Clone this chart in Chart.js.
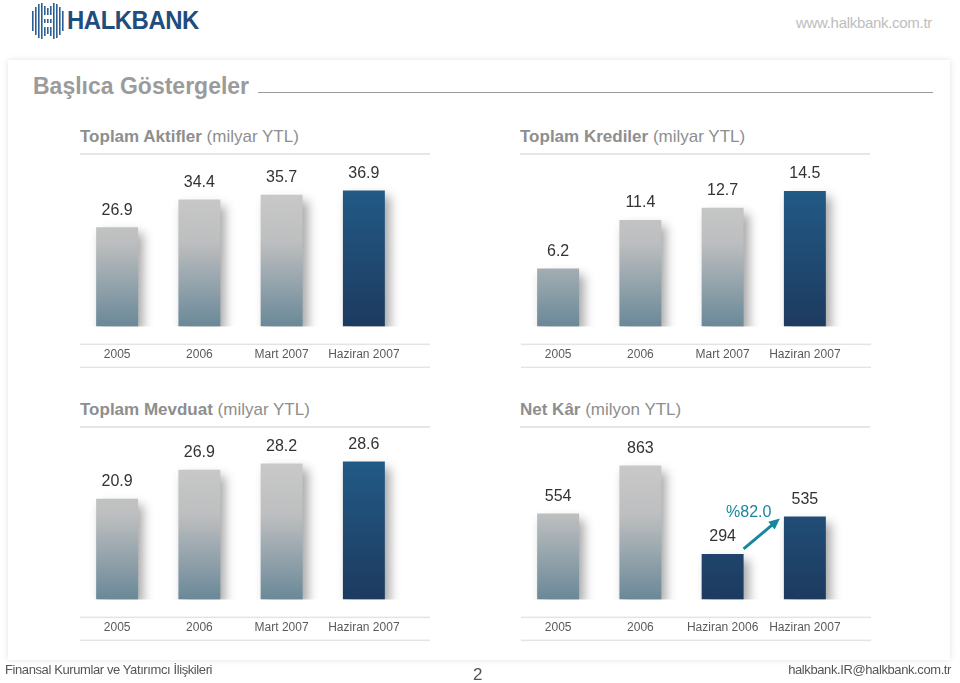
<!DOCTYPE html>
<html>
<head>
<meta charset="utf-8">
<script src="https://cdn.jsdelivr.net/npm/chart.js@4"></script>
<style>
body { margin: 0; width: 960px; height: 683px; background: #fff; position: relative; overflow: hidden;
       font-family: "Liberation Sans", Arial, sans-serif; }
.abs { position: absolute; }
.panel { left: 8px; top: 60px; width: 942px; height: 600px; background: #fff;
         box-shadow: 0 0 6px rgba(0,0,0,0.12); }
.site { right: 28px; top: 14px; font-size: 15px; color: #bdbdbd; letter-spacing: -0.3px; }
.brand { left: 67px; top: 5px; font-size: 26px; font-weight: bold; color: #1e4d7e; letter-spacing: -0.5px;
         transform: scaleX(0.92); transform-origin: left; }
.heading { left: 33px; top: 73px; font-size: 23px; font-weight: bold; color: #9b9b9b; }
.hline { left: 258px; top: 92px; width: 675px; height: 1px; background: #9a9a9a; }
.ctitle { font-size: 17px; color: #8e8e8e; }
.ctitle b { font-weight: bold; }
.tline { width: 350px; height: 2px; background: #e6e6e6; }
.foot { font-size: 13px; color: #555; top: 662px; letter-spacing: -0.4px; }
canvas { position: absolute; }
</style>
</head>
<body>
<svg class="abs" style="left:31px;top:3px" width="34" height="36" viewBox="0 0 34 36">
  <g fill="#2d5f92">
    <rect x="1" y="8" width="1.6" height="20"/>
    <rect x="4" y="4" width="1.6" height="28"/>
    <rect x="7" y="1" width="1.6" height="34"/>
    <rect x="10" y="0" width="1.6" height="36"/>
    <rect x="13" y="3" width="1.6" height="9"/>
    <rect x="13" y="16" width="1.6" height="4"/>
    <rect x="13" y="24" width="1.6" height="9"/>
    <rect x="16" y="5" width="1.6" height="7"/>
    <rect x="16" y="16" width="1.6" height="4"/>
    <rect x="16" y="24" width="1.6" height="7"/>
    <rect x="19" y="3" width="1.6" height="9"/>
    <rect x="19" y="16" width="1.6" height="4"/>
    <rect x="19" y="24" width="1.6" height="9"/>
    <rect x="22" y="0" width="1.6" height="36"/>
    <rect x="25" y="1" width="1.6" height="34"/>
    <rect x="28" y="4" width="1.6" height="28"/>
    <rect x="31" y="8" width="1.6" height="20"/>
  </g>
</svg>
<div class="abs brand">HALKBANK</div>
<div class="abs site">www.halkbank.com.tr</div>
<div class="abs panel"></div>
<div class="abs heading">Başlıca Göstergeler</div>
<div class="abs hline"></div>

<div class="abs ctitle" style="left:80px;top:127px"><b>Toplam Aktifler</b> (milyar YTL)</div>
<div class="abs tline" style="left:80px;top:153px"></div>
<div class="abs ctitle" style="left:520px;top:127px"><b>Toplam Krediler</b> (milyar YTL)</div>
<div class="abs tline" style="left:520px;top:153px"></div>
<div class="abs ctitle" style="left:80px;top:400px"><b>Toplam Mevduat</b> (milyar YTL)</div>
<div class="abs tline" style="left:80px;top:426px"></div>
<div class="abs ctitle" style="left:520px;top:400px"><b>Net Kâr</b> (milyon YTL)</div>
<div class="abs tline" style="left:520px;top:426px"></div>

<canvas id="aktifChart" width="370" height="232" style="left:70px;top:160px"></canvas>
<canvas id="krediChart" width="370" height="232" style="left:511px;top:160px"></canvas>
<canvas id="mevduatChart" width="370" height="232" style="left:70px;top:433px"></canvas>
<canvas id="karChart" width="370" height="232" style="left:511px;top:433px"></canvas>

<div class="abs foot" style="left:5px">Finansal Kurumlar ve Yatırımcı İlişkileri</div>
<div class="abs foot" style="left:473px;top:665px;font-size:17px">2</div>
<div class="abs foot" style="right:9px">halkbank.IR@halkbank.com.tr</div>

<script>
// veriler
const donemler = ["2005", "2006", "Mart 2007", "Haziran 2007"];
const karDonemleri = ["2005", "2006", "Haziran 2006", "Haziran 2007"];
const aktifler = [26.9, 34.4, 35.7, 36.9];
const krediler = [6.2, 11.4, 12.7, 14.5];
const mevduat = [20.9, 26.9, 28.2, 28.6];
const netKar = [554, 863, 294, 535];
const karArtisi = "%82.0";

Chart.defaults.font.family = '"Liberation Sans", Arial, sans-serif';

function barFill(c, darkBars) {
    const chart = c.chart;
    const area = chart.chartArea;
    if (!area) return "#bbb";
    const g = chart.ctx.createLinearGradient(0, area.bottom - 140, 0, area.bottom);
    if (darkBars.includes(c.dataIndex)) {
        g.addColorStop(0, "#225b87");
        g.addColorStop(1, "#1d3a5f");
    } else {
        g.addColorStop(0, "#cacaca");
        g.addColorStop(0.4, "#bdbebf");
        g.addColorStop(1, "#6a8898");
    }
    return g;
}

// cizgiler, golge ve deger etiketleri
const decor = {
    id: "decor",
    beforeDraw(chart) {
        const { ctx, chartArea } = chart;
        ctx.save();
        ctx.fillStyle = "#e4e4e4";
        ctx.fillRect(10, chartArea.bottom + 17, 350, 1.5);
        ctx.fillRect(10, chartArea.bottom + 40, 350, 1.5);
        ctx.restore();
    },
    beforeDatasetsDraw(chart) {
        const ctx = chart.ctx;
        ctx.save();
        ctx.shadowColor = "rgba(0,0,0,0.35)";
        ctx.shadowBlur = 10;
        ctx.shadowOffsetX = 5;
        ctx.shadowOffsetY = 6;
    },
    afterDatasetsDraw(chart) {
        const ctx = chart.ctx;
        ctx.restore();
        const ds = chart.data.datasets[0];
        const meta = chart.getDatasetMeta(0);
        ctx.save();
        ctx.font = "16px " + Chart.defaults.font.family;
        ctx.fillStyle = "#333";
        ctx.textAlign = "center";
        ctx.textBaseline = "middle";
        meta.data.forEach((bar, i) => {
            const v = ds.data[i];
            const txt = ds.decimals ? v.toFixed(ds.decimals) : String(v);
            ctx.fillText(txt, bar.x, bar.y - 17);
        });
        ctx.restore();
    }
};

// net kar icin artis oku
const growthArrow = {
    id: "growthArrow",
    afterDatasetsDraw(chart, args, opts) {
        if (!opts.text) return;
        const meta = chart.getDatasetMeta(0);
        const a = meta.data[2], b = meta.data[3];
        const x1 = a.x + a.width / 2, y1 = a.y - 5;
        const x2 = b.x - b.width / 2 - 4, y2 = b.y + 2;
        const ctx = chart.ctx;
        const ang = Math.atan2(y2 - y1, x2 - x1);
        ctx.save();
        ctx.strokeStyle = "#17879f";
        ctx.fillStyle = "#17879f";
        ctx.lineWidth = 3;
        ctx.beginPath();
        ctx.moveTo(x1, y1);
        ctx.lineTo(x2 - 8 * Math.cos(ang), y2 - 8 * Math.sin(ang));
        ctx.stroke();
        ctx.beginPath();
        ctx.moveTo(x2, y2);
        ctx.lineTo(x2 - 11 * Math.cos(ang) + 5 * Math.sin(ang), y2 - 11 * Math.sin(ang) - 5 * Math.cos(ang));
        ctx.lineTo(x2 - 11 * Math.cos(ang) - 5 * Math.sin(ang), y2 - 11 * Math.sin(ang) + 5 * Math.cos(ang));
        ctx.closePath();
        ctx.fill();
        ctx.font = "16px " + Chart.defaults.font.family;
        ctx.textAlign = "center";
        ctx.textBaseline = "middle";
        ctx.fillText(opts.text, (a.x + b.x) / 2 - 15, b.y - 4);
        ctx.restore();
    }
};

function makeChart(id, labels, values, yMax, darkBars, decimals, arrowText) {
    return new Chart(document.getElementById(id), {
        type: "bar",
        data: {
            labels: labels,
            datasets: [{
                data: values,
                decimals: decimals,
                backgroundColor: c => barFill(c, darkBars),
                barPercentage: 0.6,
                categoryPercentage: 0.85
            }]
        },
        options: {
            responsive: false,
            animation: false,
            layout: { padding: { left: 6, right: 35, top: 16, bottom: 9 } },
            plugins: {
                legend: { display: false },
                tooltip: { enabled: false },
                growthArrow: { text: arrowText }
            },
            scales: {
                x: {
                    grid: { display: false, drawTicks: false },
                    border: { display: false },
                    ticks: { color: "#5a5a5a", font: { size: 12 }, padding: 21, maxRotation: 0 }
                },
                y: { display: false, min: 0, max: yMax }
            }
        },
        plugins: [decor, growthArrow]
    });
}

makeChart("aktifChart", donemler, aktifler, 40.8, [3], 1);
makeChart("krediChart", donemler, krediler, 16.1, [3], 1);
makeChart("mevduatChart", donemler, mevduat, 31.2, [3], 1);
makeChart("karChart", karDonemleri, netKar, 970, [2, 3], 0, karArtisi);
</script>
</body>
</html>
